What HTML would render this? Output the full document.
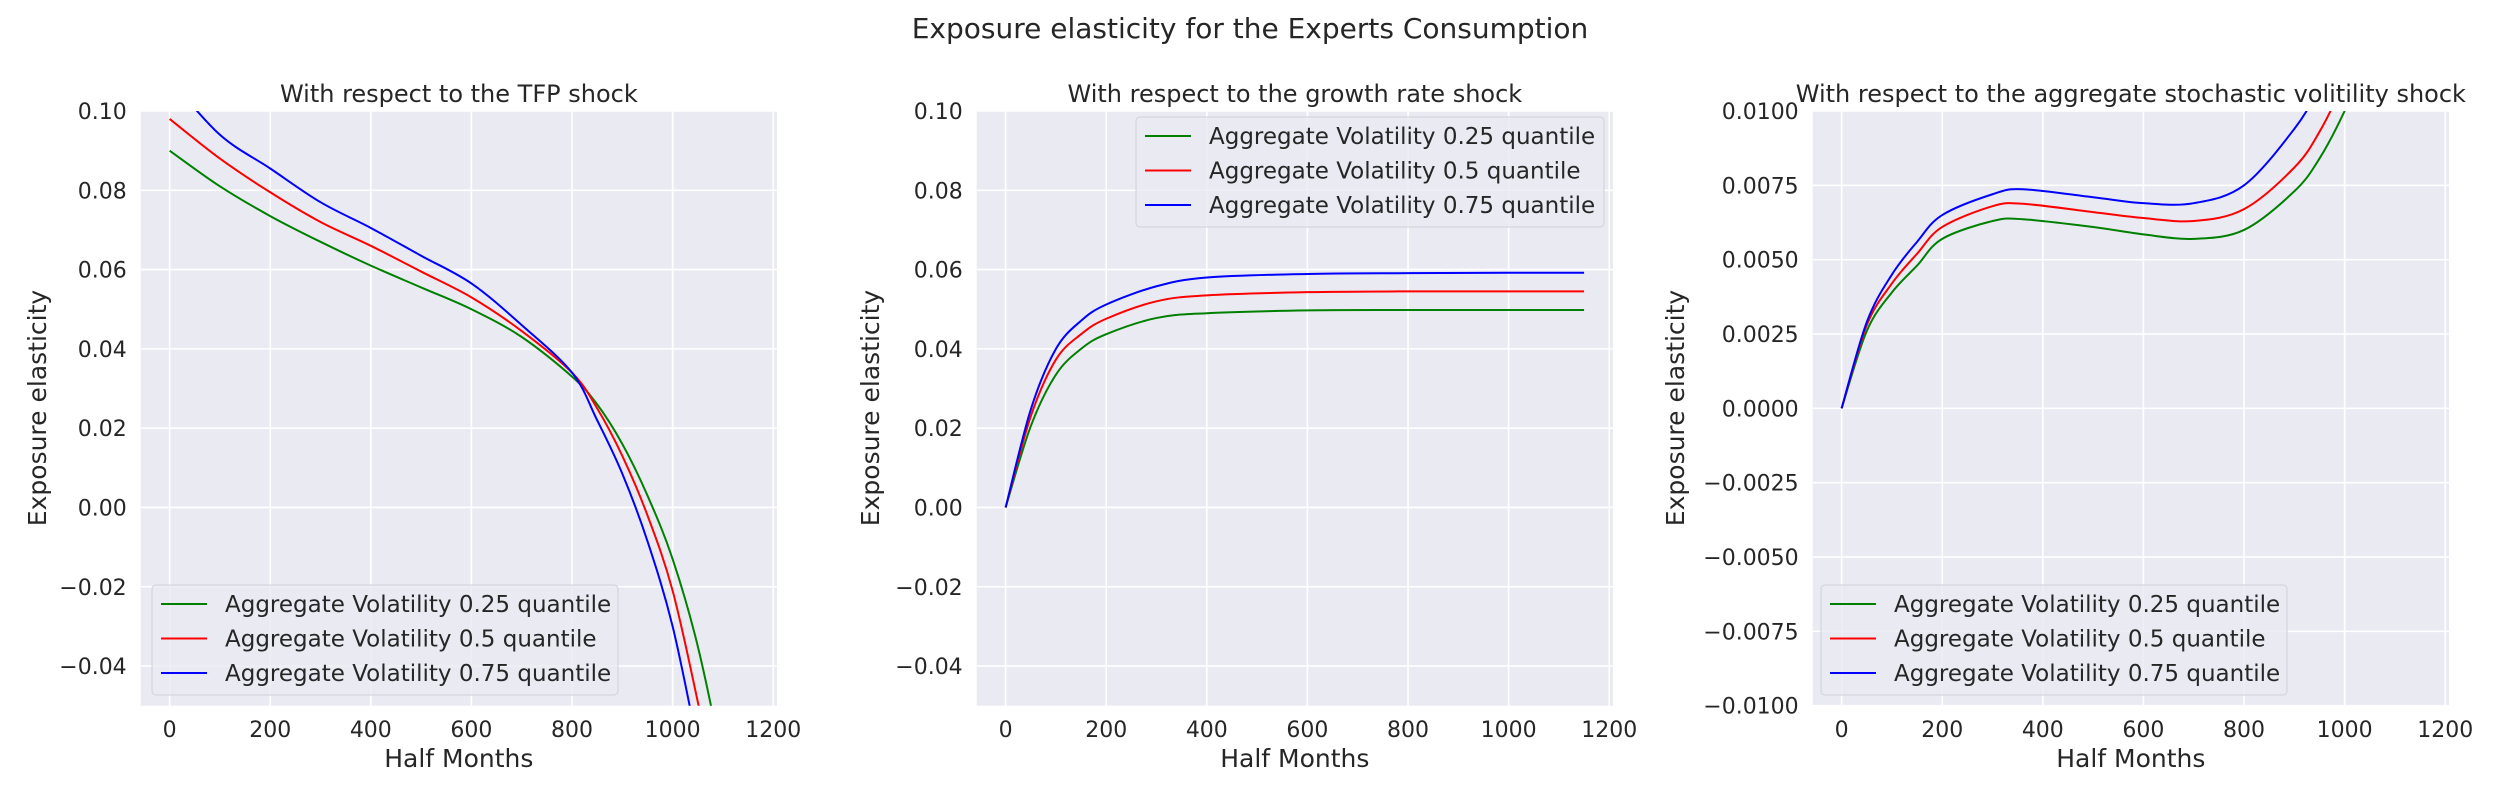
<!DOCTYPE html>
<html><head><meta charset="utf-8"><style>
html,body{margin:0;padding:0;background:#fff;width:2500px;height:800px;overflow:hidden;}
svg{display:block;}
svg text{font-family:"DejaVu Sans","Liberation Sans",sans-serif;fill:#262626;}
</style></head><body>
<svg id="c" width="2500" height="800" xmlns="http://www.w3.org/2000/svg">
<text x="1250" y="38" font-size="28" text-anchor="middle">Exposure elasticity for the Experts Consumption</text>
</svg>
<script>
const xsTFP = [0,100,200,300,400,500,600,700,800,850,900,950,1000,1050,1100,1150];
const tfpGreen = [0.090,0.081,0.0735,0.067,0.061,0.0555,0.050,0.043,0.033,0.026,0.016,0.003,-0.013,-0.035,-0.065,-0.1];
const tfpRed = [0.098,0.088,0.0795,0.072,0.066,0.0595,0.053,0.0445,0.034,0.025,0.013,-0.002,-0.021,-0.049,-0.08,-0.12];
const tfpBlue = [0.108,0.094,0.0855,0.077,0.0705,0.0635,0.0565,0.046,0.034,0.022,0.0085,-0.0085,-0.03,-0.06,-0.09,-0.13];
const xsG = [0,50,100,150,200,300,400,600,800,1000,1150];
const grGreen = [0,0.0205,0.0335,0.040,0.0437,0.0478,0.049,0.0497,0.0498,0.0498,0.0498];
const grRed = [0,0.023,0.0373,0.0437,0.0476,0.052,0.0535,0.0543,0.0545,0.0545,0.0545];
const grBlue = [0,0.0247,0.040,0.0471,0.0512,0.0558,0.058,0.0589,0.0591,0.0592,0.0592];
const xsV = [0,50,100,150,200,300,360,500,600,700,800,900,950,1000,1050];
const svGreen = [0,0.0026,0.0039,0.0048,0.0057,0.0063,0.00636,0.0061,0.00585,0.0057,0.006,0.0073,0.0084,0.0100,0.0120];
const svRed = [0,0.0028,0.0042,0.0052,0.0061,0.0068,0.00688,0.0066,0.0064,0.0063,0.0067,0.0081,0.0093,0.0110,0.0130];
const svBlue = [0,0.0029,0.0045,0.0056,0.0065,0.0072,0.00737,0.0071,0.0069,0.0069,0.0075,0.0094,0.0108,0.0125,0.0145];
const xTicks = [0,200,400,600,800,1000,1200];
const yTicksA = [-0.04,-0.02,0,0.02,0.04,0.06,0.08,0.10];
const yTicksC = [-0.01,-0.0075,-0.005,-0.0025,0,0.0025,0.005,0.0075,0.01];
const legendLabels = ["Aggregate Volatility 0.25 quantile","Aggregate Volatility 0.5 quantile","Aggregate Volatility 0.75 quantile"];
const colors = ["green","red","blue"];

const NS="http://www.w3.org/2000/svg";
const svg=document.getElementById('c');
function mk(tag,attrs,parent){const e=document.createElementNS(NS,tag);for(const k in attrs)e.setAttribute(k,attrs[k]);(parent||svg).appendChild(e);return e;}
function fmt(v,d){const s=Math.abs(v).toFixed(d);return (v<0?"\u2212":"")+s;}

const panels=[
 {left:140.7,title:"With respect to the TFP shock",xs:xsTFP,ser:[tfpGreen,tfpRed,tfpBlue],ymin:-0.05,ymax:0.10,yt:yTicksA,dec:2,ylab:38,leg:{x:152,y:585,w:466,h:110}},
 {left:976.7,title:"With respect to the growth rate shock",xs:xsG,ser:[grGreen,grRed,grBlue],ymin:-0.05,ymax:0.10,yt:yTicksA,dec:2,ylab:871,leg:{x:1136,y:117,w:468,h:110}},
 {left:1812.7,title:"With respect to the aggregate stochastic volitility shock",xs:xsV,ser:[svGreen,svRed,svBlue],ymin:-0.01,ymax:0.01,yt:yTicksC,dec:4,ylab:1676,leg:{x:1821,y:585,w:466,h:110}}
];
const pTop=111,pBot=705.7,W=636.3,xmin=-57.5,xmax=1207.5;
panels.forEach((p,i)=>{
 const g=mk('g',{});
 
 
 const X=v=>p.left+(v-xmin)/(xmax-xmin)*W;
 const Y=v=>pBot-(v-p.ymin)/(p.ymax-p.ymin)*(pBot-pTop);
 const bg=mk('rect',{x:p.left,y:pTop,width:W,height:pBot-pTop,fill:'#eaeaf2'},g);
 
 
 xTicks.forEach(t=>{
  mk('line',{x1:X(t),x2:X(t),y1:pTop,y2:pBot,stroke:'#fff','stroke-width':1.6},g);
  const tx=mk('text',{x:X(t),y:737,'font-size':22,'text-anchor':'middle'},g);tx.textContent=t;
  
  
 });
 p.yt.forEach(t=>{
  mk('line',{x1:p.left,x2:p.left+W,y1:Y(t),y2:Y(t),stroke:'#fff','stroke-width':1.6},g);
  const ty=mk('text',{x:p.left-14,y:Y(t)+8,'font-size':22,'text-anchor':'end'},g);ty.textContent=fmt(t,p.dec);
  
  
 });
 const cid='clip'+i;
 const cp=mk('clipPath',{id:cid},g);mk('rect',{x:p.left,y:pTop,width:W,height:pBot-pTop},cp);
 p.ser.forEach((ys,k)=>{
  const pts=p.xs.map((x,j)=>[X(x),Y(ys[j])]);
  let d='M'+pts[0][0]+','+pts[0][1];
  for(let j=0;j<pts.length-1;j++){
   const p0=pts[Math.max(j-1,0)],p1=pts[j],p2=pts[j+1],p3=pts[Math.min(j+2,pts.length-1)];
   const c1=[p1[0]+(p2[0]-p0[0])/6,p1[1]+(p2[1]-p0[1])/6],c2=[p2[0]-(p3[0]-p1[0])/6,p2[1]-(p3[1]-p1[1])/6];
   d+=' C'+c1+' '+c2+' '+p2;
  }
  const path=mk('path',{d:d,fill:'none',stroke:colors[k],'stroke-width':2,'clip-path':'url(#'+cid+')'},g);
  
  
 });
 const ti=mk('text',{x:p.left+W/2,y:102,'font-size':24,'text-anchor':'middle'},g);ti.textContent=p.title;
 
 
 const xl=mk('text',{x:p.left+W/2,y:767,'font-size':25,'text-anchor':'middle'},g);xl.textContent='Half Months';
 
 
 const yl=mk('text',{x:0,y:0,'font-size':25,'text-anchor':'middle',transform:'translate('+(p.ylab+8)+',408) rotate(-90)'},g);yl.textContent='Exposure elasticity';
 
 
 const L=p.leg;
 const lg=mk('g',{},g);
 
 
 mk('rect',{x:L.x,y:L.y,width:L.w,height:L.h,rx:4,fill:'#eaeaf2','fill-opacity':0.8,stroke:'#d0d0d8','stroke-width':1},lg);
 legendLabels.forEach((lab,k)=>{
  const ry=L.y+19+k*34.5;
  const e=mk('g',{},lg);
  
  
  mk('line',{x1:L.x+9,x2:L.x+55,y1:ry,y2:ry,stroke:colors[k],'stroke-width':2},e);
  const t=mk('text',{x:L.x+73,y:ry+8,'font-size':23},e);t.textContent=lab;
 });
});
</script>
</body></html>
